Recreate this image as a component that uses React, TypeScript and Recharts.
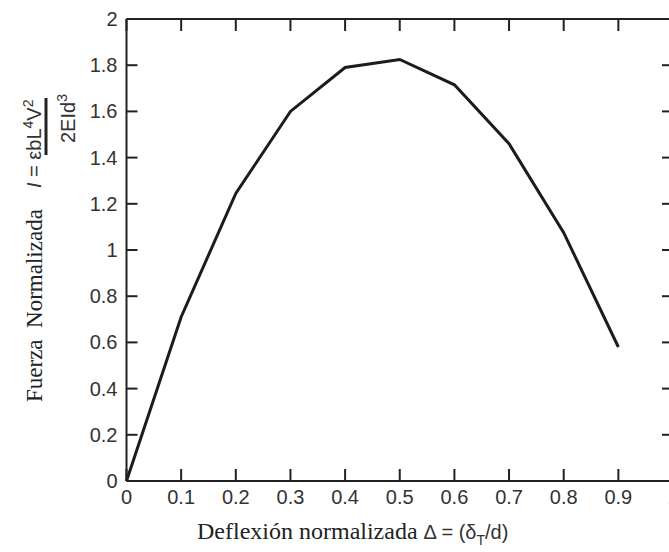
import React from "react";
import { LineChart, Line, XAxis, YAxis, ReferenceLine } from "recharts";

const deflexion = [0, 0.1, 0.2, 0.3, 0.4, 0.5, 0.6, 0.7, 0.8, 0.9];
const fuerza = [0, 0.71, 1.245, 1.6, 1.79, 1.825, 1.715, 1.46, 1.075, 0.58];
const xTicks = [0, 0.1, 0.2, 0.3, 0.4, 0.5, 0.6, 0.7, 0.8, 0.9, 1];
const yTicks = [0, 0.2, 0.4, 0.6, 0.8, 1, 1.2, 1.4, 1.6, 1.8, 2];

const data = deflexion.map((d, i) => ({ d, f: fuerza[i] }));

const AX = "#222";
const TXT = "#333";
const SANS = "'Liberation Sans', Arial, sans-serif";
const SERIF = "'Liberation Serif', 'Times New Roman', serif";

const CHART_W = 680;
const CHART_H = 552;
const MARGIN = { top: 19, right: 7, bottom: 0, left: 0 };
const Y_AXIS_W = 126.5;
const X_AXIS_H = 71;
const PLOT_LEFT = MARGIN.left + Y_AXIS_W;
const PLOT_RIGHT = CHART_W - MARGIN.right;
const PLOT_TOP = MARGIN.top;
const PLOT_BOTTOM = CHART_H - MARGIN.bottom - X_AXIS_H;

const BottomTick = (p: any) => {
  const { payload } = p;
  const x = payload.coordinate;
  return (
    <g>
      <line x1={x} y1={PLOT_BOTTOM} x2={x} y2={PLOT_BOTTOM - 12} stroke={AX} strokeWidth={2} />
      <line x1={x} y1={PLOT_TOP} x2={x} y2={PLOT_TOP + 12} stroke={AX} strokeWidth={2} />
      <text x={x} y={PLOT_BOTTOM + 23} textAnchor="middle" fontFamily={SANS} fontSize={20} fill={TXT}>
        {String(payload.value)}
      </text>
    </g>
  );
};
const LeftTick = (p: any) => {
  const { payload } = p;
  const y = payload.coordinate;
  return (
    <g>
      <line x1={PLOT_LEFT} y1={y} x2={PLOT_LEFT + 11} y2={y} stroke={AX} strokeWidth={2} />
      <line x1={PLOT_RIGHT} y1={y} x2={PLOT_RIGHT - 11} y2={y} stroke={AX} strokeWidth={2} />
      <text x={PLOT_LEFT - 9} y={y + 7} textAnchor="end" fontFamily={SANS} fontSize={20} fill={TXT}>
        {String(payload.value)}
      </text>
    </g>
  );
};

const YTitle = () => (
  <g>
    <text transform="translate(42,402) rotate(-90)" fontFamily={SERIF} fontSize={23} fill="#222">
      {"Fuerza\u00A0\u00A0Normalizada"}
    </text>
    <text transform="translate(41,188) rotate(-90)" fontFamily={SANS} fontSize={20} fill={TXT}>
      <tspan fontStyle="italic">I</tspan>
      <tspan>{" = \u03B5bL"}</tspan>
      <tspan dy={-8} fontSize={14}>4</tspan>
      <tspan dy={8}>V</tspan>
      <tspan dy={-8} fontSize={14}>2</tspan>
    </text>
    <line x1={46} y1={98} x2={46} y2={155} stroke="#222" strokeWidth={3} />
    <text transform="translate(75,143) rotate(-90)" fontFamily={SANS} fontSize={20} fill={TXT}>
      <tspan>2EId</tspan>
      <tspan dy={-8} fontSize={14}>3</tspan>
    </text>
  </g>
);

const XTitle = () => (
  <text x={197} y={539} fill="#222">
    <tspan fontFamily={SERIF} fontSize={24}>{"Deflexi\u00F3n normalizada "}</tspan>
    <tspan fontFamily={SANS} fontSize={20} fill={TXT}>{"\u0394 = (\u03B4"}</tspan>
    <tspan fontFamily={SANS} fontSize={14} fill={TXT} dy={6}>T</tspan>
    <tspan fontFamily={SANS} fontSize={20} fill={TXT} dy={-6}>{"/d)"}</tspan>
  </text>
);

export default function App() {
  return (
    <div style={{ position: "absolute", left: 0, top: 0, width: 669, height: 552, overflow: "hidden", background: "#fff" }}>
      <LineChart width={CHART_W} height={CHART_H} data={data} margin={MARGIN}>
        <ReferenceLine y={2} stroke={AX} strokeWidth={2} ifOverflow="visible" />
        <ReferenceLine x={1} stroke={AX} strokeWidth={2} ifOverflow="visible" />
        <XAxis
          dataKey="d"
          type="number"
          domain={[0, 1]}
          ticks={xTicks}
          interval={0}
          height={X_AXIS_H}
          tickLine={false}
          axisLine={{ stroke: AX, strokeWidth: 2 }}
          tick={<BottomTick />}
          label={{ content: () => <XTitle /> }}
        />
        <YAxis
          type="number"
          domain={[0, 2]}
          ticks={yTicks}
          interval={0}
          width={Y_AXIS_W}
          tickLine={false}
          axisLine={{ stroke: AX, strokeWidth: 2 }}
          tick={<LeftTick />}
          label={{ content: () => <YTitle /> }}
        />
        <Line
          dataKey="f"
          type="linear"
          stroke="#1c1c1c"
          strokeWidth={3}
          dot={false}
          isAnimationActive={false}
        />
      </LineChart>
    </div>
  );
}
